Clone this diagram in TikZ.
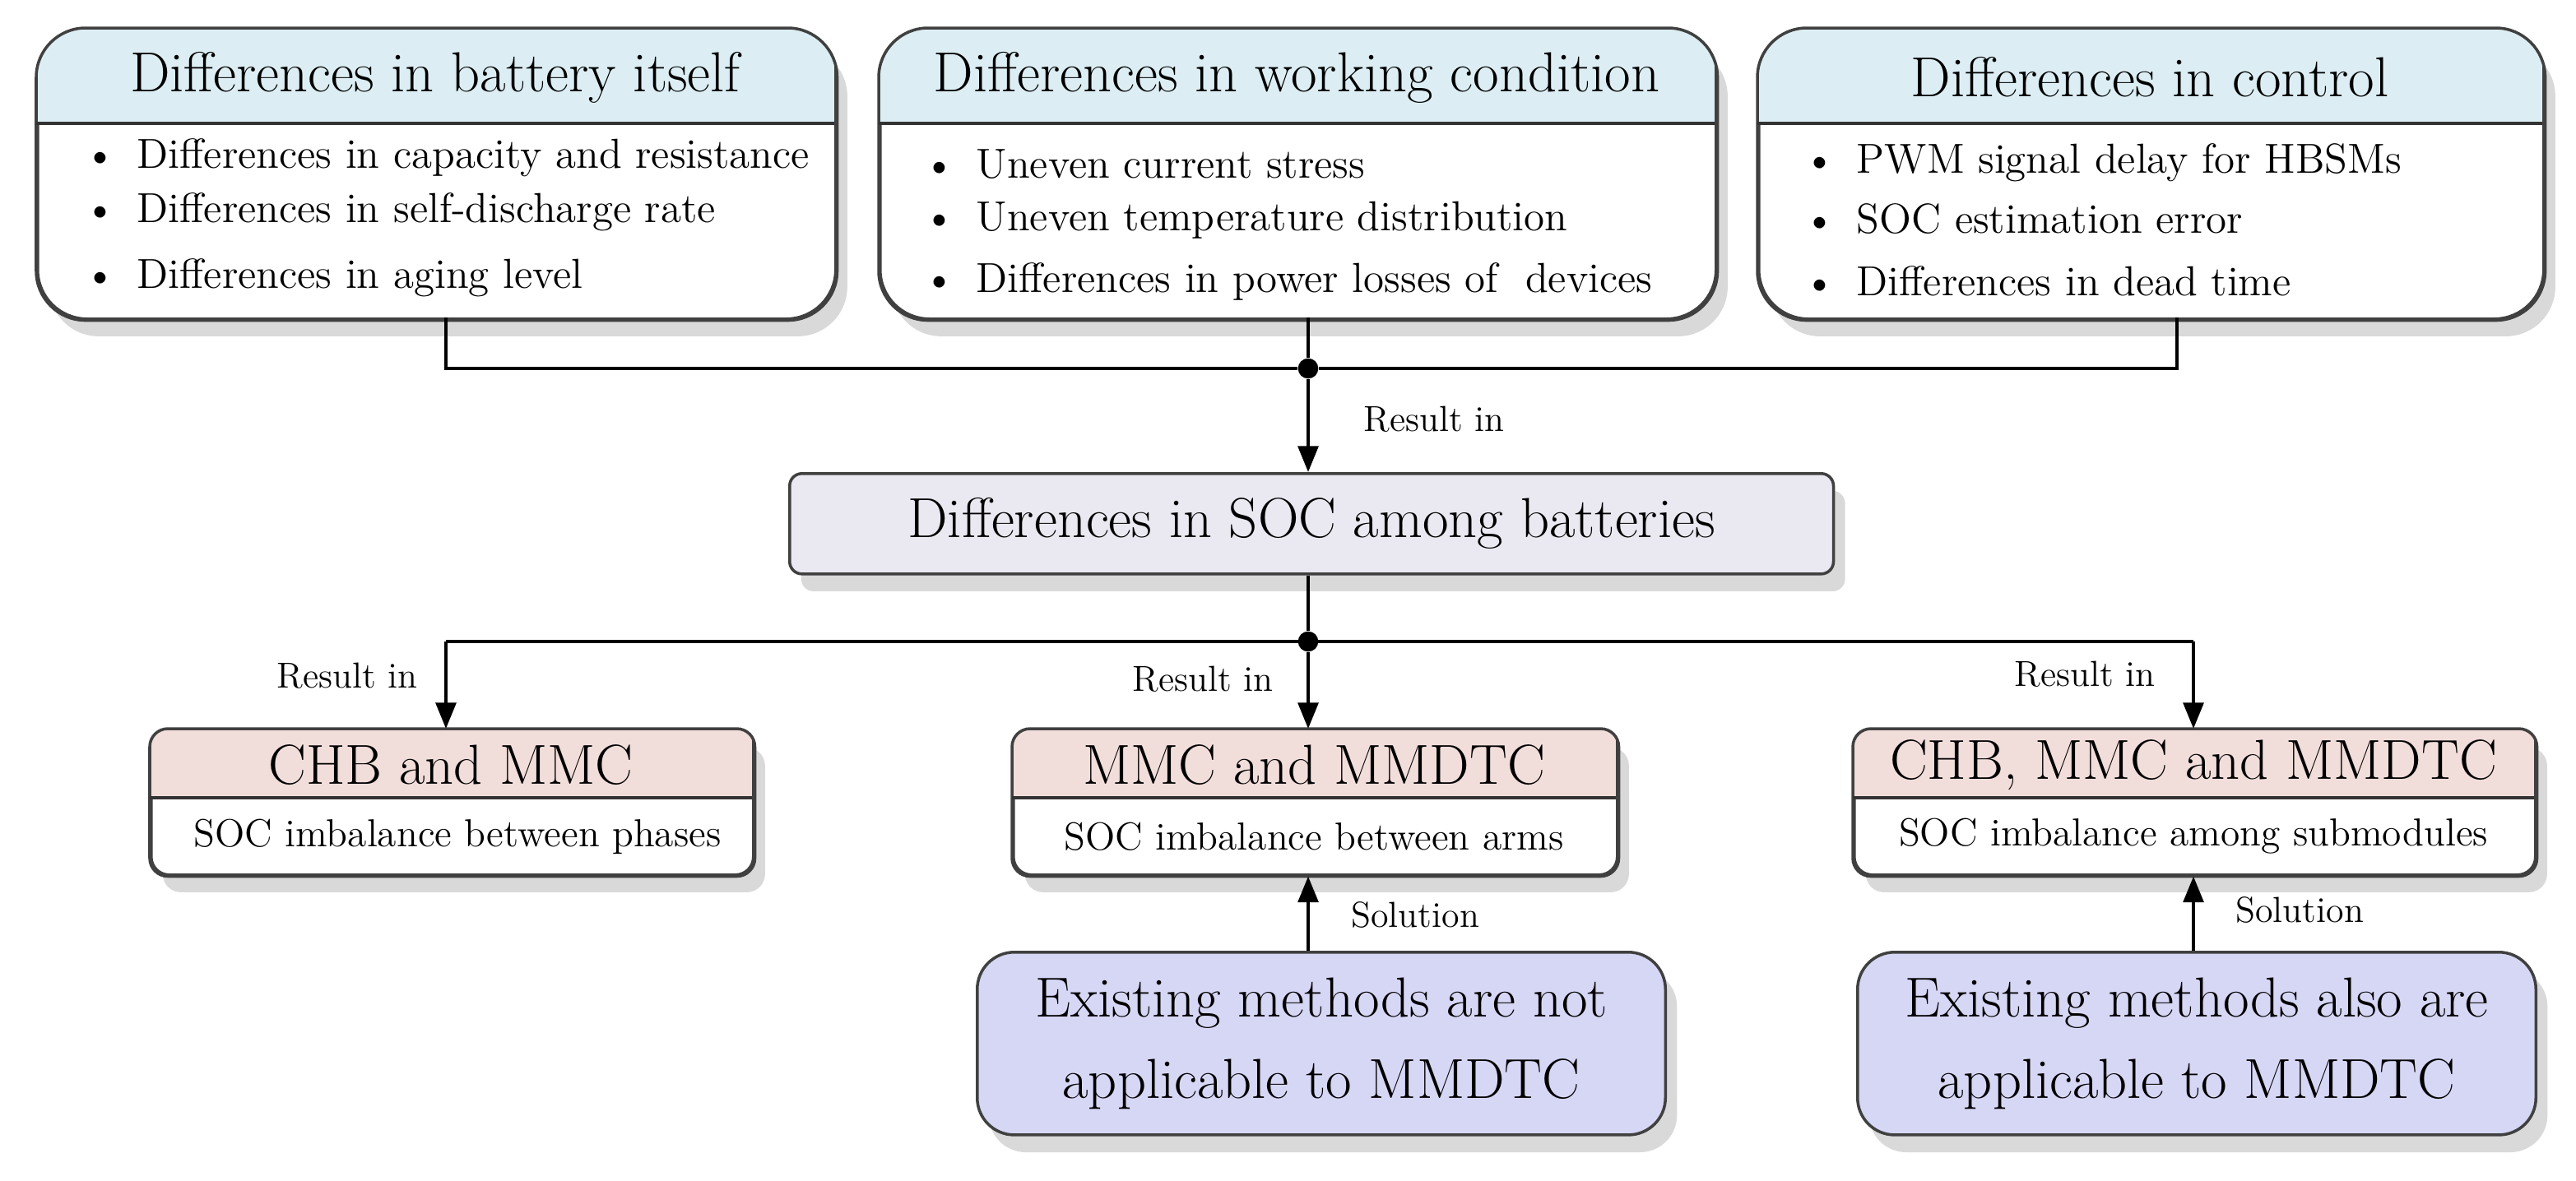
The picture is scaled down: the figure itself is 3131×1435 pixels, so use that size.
\documentclass[tikz,border=0pt]{standalone}
\usetikzlibrary{shadows,arrows.meta,calc}
\definecolor{hblue}{HTML}{DCEEF3}
\definecolor{hpink}{HTML}{F1DDDA}
\definecolor{socg}{HTML}{EAE8F0}
\definecolor{lav}{HTML}{D6D6F5}
\newcommand{\twobox}[8]{%
  \node[draw=black!75,line width=1pt,fill=white,rounded corners=#7,drop shadow={opacity=0.3,shadow xshift=4pt,shadow yshift=-6pt},anchor=north west,minimum width=#4*0.01cm-#2*0.01cm,minimum height=#5*0.01cm-#3*0.01cm,inner sep=0pt] (#1) at (#2,#3) {};
  \begin{scope}
    \clip[rounded corners=#7] (#1.south west) rectangle (#1.north east);
    \fill[#8] (#1.north west) rectangle (#4,#6);
  \end{scope}
  \draw[black!75,line width=1pt,rounded corners=#7] (#1.south west) rectangle (#1.north east);
  \draw[black!80,line width=1pt] (#2,#6) -- (#4,#6);
}
\tikzset{
  hd/.style={font=\fontsize{19.5}{22}\selectfont},
  bl/.style={font=\fontsize{14.5}{16}\selectfont,anchor=west},
  sm/.style={font=\fontsize{13.5}{15}\selectfont},
  lb/.style={font=\fontsize{12.5}{14}\selectfont},
  ln/.style={line width=1.2pt},
  ar/.style={ln,-{Triangle[length=9pt,width=7pt]}},
  dot/.style={circle,fill,inner sep=0pt,minimum size=7pt},
  shd/.style={drop shadow={opacity=0.3,shadow xshift=4pt,shadow yshift=-6pt}}
}
\begin{document}
\begin{tikzpicture}[x=0.01cm,y=-0.01cm]
\useasboundingbox (0,0) rectangle (3131,1435);
% top boxes
\twobox{b1}{44}{34}{1014}{386}{150}{0.6cm}{hblue}
\twobox{b2}{1068}{34}{2084}{386}{150}{0.6cm}{hblue}
\twobox{b3}{2136}{34}{3090}{386}{150}{0.6cm}{hblue}
\node[hd] (t1) at (529,94) {Differences in battery itself};
\node[hd] (t2) at (1576,94) {Differences in working condition};
\node[hd] (t3) at (2613,94) {Differences in control};
\node[bl] (b1a) at (90,192) {\textbullet\enspace Differences in capacity and resistance};
\node[bl] (b1b) at (90,258) {\textbullet\enspace Differences in self-discharge rate};
\node[bl] (b1c) at (90,338) {\textbullet\enspace Differences in aging level};
\node[bl] (b2a) at (1110,200) {\textbullet\enspace Uneven current stress};
\node[bl] (b2b) at (1110,268) {\textbullet\enspace Uneven temperature distribution};
\node[bl] (b2c) at (1110,342) {\textbullet\enspace Differences in power losses of\ \ devices};
\node[bl] (b3a) at (2180,198) {\textbullet\enspace PWM signal delay for HBSMs};
\node[bl] (b3b) at (2180,266) {\textbullet\enspace SOC estimation error};
\node[bl] (b3c) at (2180,342) {\textbullet\enspace Differences in dead time};
% SOC box
\node[draw=black!75,line width=1pt,fill=socg,rounded corners=0.15cm,shd,anchor=north west,minimum width=12.68cm,minimum height=1.22cm,hd] (soc) at (958,574) {Differences in SOC among batteries};
% top connectors
\node[dot] (j1) at (1590,448) {};
\coordinate (c1) at (542,448);
\coordinate (c3) at (2646,448);
\draw[ln] (542,386) -- (c1) -- (j1) -- (c3) -- (2646,386);
\draw[ln] (1590,386) -- (j1);
\draw[ar] (j1) -- (soc.north -| j1);
\node[lb,anchor=west] (r0) at (1645,510) {Result in};
% bottom boxes
\twobox{d1}{182}{886}{914}{1062}{970}{0.22cm}{hpink}
\twobox{d2}{1230}{886}{1964}{1062}{970}{0.22cm}{hpink}
\twobox{d3}{2252}{886}{3080}{1062}{970}{0.22cm}{hpink}
\node[hd] (e1) at (548,930) {CHB and MMC};
\node[hd] (e2) at (1597,930) {MMC and MMDTC};
\node[hd] (e3) at (2666,930) {CHB, MMC and MMDTC};
\node[sm] (f1) at (556,1017) {SOC imbalance between phases};
\node[sm] (f2) at (1597,1017) {SOC imbalance between arms};
\node[sm] (f3) at (2666,1017) {SOC imbalance among submodules};
\node[dot] (j2) at (1590,780) {};
\coordinate (k1) at (542,780);
\coordinate (k3) at (2666,780);
\draw[ln] (soc.south -| j2) -- (j2);
\draw[ln] (k1) -- (k3);
\draw[ar] (k1) -- (542,886);
\draw[ar] (j2) -- (1590,886);
\draw[ar] (k3) -- (2666,886);
\node[lb] (r1) at (422,822) {Result in};
\node[lb] (r2) at (1462,826) {Result in};
\node[lb] (r3) at (2534,820) {Result in};
% solution boxes
\node[draw=black!75,line width=1pt,fill=lav,rounded corners=0.45cm,shd,anchor=north west,minimum width=8.36cm,minimum height=2.22cm,align=center,font=\fontsize{19.5}{28}\selectfont] (s1) at (1186,1156) {Existing methods are not\\applicable to MMDTC};
\node[draw=black!75,line width=1pt,fill=lav,rounded corners=0.45cm,shd,anchor=north west,minimum width=8.24cm,minimum height=2.22cm,align=center,font=\fontsize{19.5}{28}\selectfont] (s2) at (2256,1156) {Existing methods also are\\applicable to MMDTC};
\draw[ar] (s1.north -| 1590,0) -- (d2.south -| 1590,0);
\draw[ar] (s2.north -| 2666,0) -- (d3.south -| 2666,0);
\node[lb,anchor=west] (l1) at (1630,1112) {Solution};
\node[lb,anchor=west] (l2) at (2705,1106) {Solution};
\end{tikzpicture}
\end{document}
